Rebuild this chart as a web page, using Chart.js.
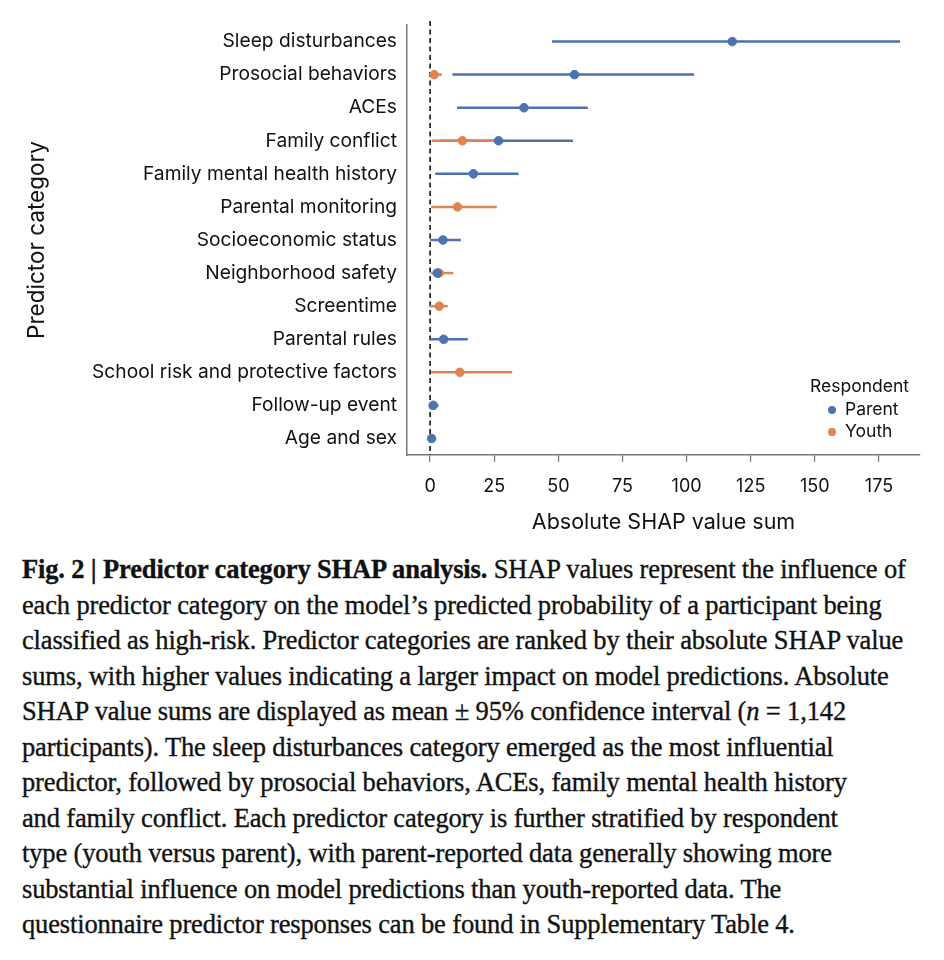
<!DOCTYPE html>
<html>
<head>
<meta charset="utf-8">
<script src="https://cdn.jsdelivr.net/npm/chart.js@4.4.1/dist/chart.umd.min.js"></script>
<style>
  body { margin: 0; background: #fff; }
  #wrap { position: relative; width: 944px; height: 545px; }
  #legend { position: absolute; left: 810px; top: 375px; font-family: Inter, sans-serif; font-size: 17.5px; color: #111; line-height: 22.5px; }
  #legend .item { padding-left: 35px; position: relative; }
  #legend .dot { position: absolute; left: 18px; top: 8px; width: 8px; height: 8px; border-radius: 50%; }
  #caption { position: absolute; left: 22px; top: 552px; font-family: "Liberation Serif", serif; font-size: 26.5px; line-height: 35.5px; color: #111; white-space: nowrap; letter-spacing: -0.15px; -webkit-text-stroke: 0.35px #111; }
</style>
</head>
<body>
<div id="wrap">
  <canvas id="chart"></canvas>
  <div id="legend">
    <div>Respondent</div>
    <div class="item"><span class="dot" style="background:#4C72B0"></span>Parent</div>
    <div class="item"><span class="dot" style="background:#DD8452"></span>Youth</div>
  </div>
</div>
<div id="caption">
  <div><b>Fig. 2 | Predictor category SHAP analysis.</b> SHAP values represent the influence of</div>
  <div>each predictor category on the model’s predicted probability of a participant being</div>
  <div>classified as high-risk. Predictor categories are ranked by their absolute SHAP value</div>
  <div>sums, with higher values indicating a larger impact on model predictions. Absolute</div>
  <div>SHAP value sums are displayed as mean ± 95% confidence interval (<i>n</i> = 1,142</div>
  <div>participants). The sleep disturbances category emerged as the most influential</div>
  <div>predictor, followed by prosocial behaviors, ACEs, family mental health history</div>
  <div>and family conflict. Each predictor category is further stratified by respondent</div>
  <div>type (youth versus parent), with parent-reported data generally showing more</div>
  <div>substantial influence on model predictions than youth-reported data. The</div>
  <div>questionnaire predictor responses can be found in Supplementary Table 4.</div>
</div>
<script>
const categories = ['Sleep disturbances', 'Prosocial behaviors', 'ACEs', 'Family conflict',
  'Family mental health history', 'Parental monitoring', 'Socioeconomic status',
  'Neighborhood safety', 'Screentime', 'Parental rules', 'School risk and protective factors',
  'Follow-up event', 'Age and sex']

// mean and 95% CI, null where that respondent has no predictors
const parentMean = [117.8, 56.3, 36.6, 26.7, 16.9, null, 5.0, 2.8, null, 5.3, null, 1.2, 0.6]
const parentLow  = [47.5, 8.7, 10.5, 4.0, 2.0, null, 0.0, 1.5, null, 0.0, null, 0.3, 0.2]
const parentHigh = [183.2, 102.9, 61.5, 55.7, 34.5, null, 12.0, 4.5, null, 14.7, null, 3.3, 1.0]

const youthMean = [null, 1.6, null, 12.6, null, 10.7, null, 3.5, 3.6, null, 11.6, null, null]
const youthLow  = [null, 0.0, null, 0.6, null, 0.4, null, 0.4, 0.0, null, 0.4, null, null]
const youthHigh = [null, 4.6, null, 28.0, null, 26.0, null, 9.1, 6.9, null, 32.0, null, null]

const xTickValues = [0, 25, 50, 75, 100, 125, 150, 175]

const blue = '#4C72B0'
const orange = '#DD8452'

function toPoints(means, lows, highs) {
  let pts = []
  for (let i = 0; i < categories.length; i++) {
    if (means[i] === null) continue
    pts.push({ x: means[i], y: categories[i], lo: lows[i], hi: highs[i] })
  }
  return pts
}

const errorBars = {
  id: 'errorBars',
  beforeDatasetsDraw(chart) {
    const ctx = chart.ctx
    const xs = chart.scales.x, ys = chart.scales.y
    // zero reference line
    const x0 = xs.getPixelForValue(0)
    ctx.save()
    ctx.strokeStyle = '#111'
    ctx.lineWidth = 1.6
    ctx.setLineDash([5, 3.5])
    ctx.beginPath()
    ctx.moveTo(x0, chart.chartArea.top - 4)
    ctx.lineTo(x0, chart.chartArea.bottom)
    ctx.stroke()
    ctx.setLineDash([])
    chart.data.datasets.forEach(ds => {
      ctx.strokeStyle = ds.backgroundColor
      ctx.lineWidth = 2.5
      ds.data.forEach(p => {
        const y = ys.getPixelForValue(p.y)
        ctx.beginPath()
        ctx.moveTo(xs.getPixelForValue(p.lo), y)
        ctx.lineTo(xs.getPixelForValue(p.hi), y)
        ctx.stroke()
      })
    })
    ctx.restore()
  }
}

const canvas = document.getElementById('chart')
new Chart(canvas.getContext('2d'), {
  type: 'scatter',
  data: {
    datasets: [
      { label: 'Parent', data: toPoints(parentMean, parentLow, parentHigh), backgroundColor: blue, borderColor: blue, pointRadius: 4.3, pointHoverRadius: 4.3 },
      { label: 'Youth', data: toPoints(youthMean, youthLow, youthHigh), backgroundColor: orange, borderColor: orange, pointRadius: 4.3, pointHoverRadius: 4.3 }
    ]
  },
  options: {
    responsive: true,
    maintainAspectRatio: false,
    animation: false,
    layout: { padding: { top: 25, right: 24, bottom: 0, left: 0 } },
    plugins: { legend: { display: false }, tooltip: { enabled: false } },
    scales: {
      x: {
        type: 'linear',
        min: -9,
        max: 191,
        afterBuildTicks: s => { s.ticks = xTickValues.map(v => ({ value: v })) },
        afterFit: s => { s.height = 90 },
        grid: { drawOnChartArea: false, drawTicks: true, tickLength: 7, color: '#777', lineWidth: 1.2 },
        border: { display: true, color: '#777', width: 1.5 },
        ticks: { color: '#111', font: { family: 'Inter', size: 18 }, padding: 14 },
        title: { display: true, text: 'Absolute SHAP value sum', color: '#111', font: { family: 'Inter', size: 21.5 }, padding: { top: 0, bottom: 10 } }
      },
      y: {
        type: 'category',
        labels: categories,
        offset: true,
        afterFit: s => { s.width = 407 },
        grid: { display: false },
        border: { display: true, color: '#777', width: 1.5 },
        ticks: { color: '#111', font: { family: 'Inter', size: 19.2 }, padding: 2 },
        title: { display: true, text: 'Predictor category', color: '#111', font: { family: 'Inter', size: 22.5 }, padding: { top: 24, bottom: 0 } }
      }
    }
  },
  plugins: [errorBars]
})
</script>
</body>
</html>
